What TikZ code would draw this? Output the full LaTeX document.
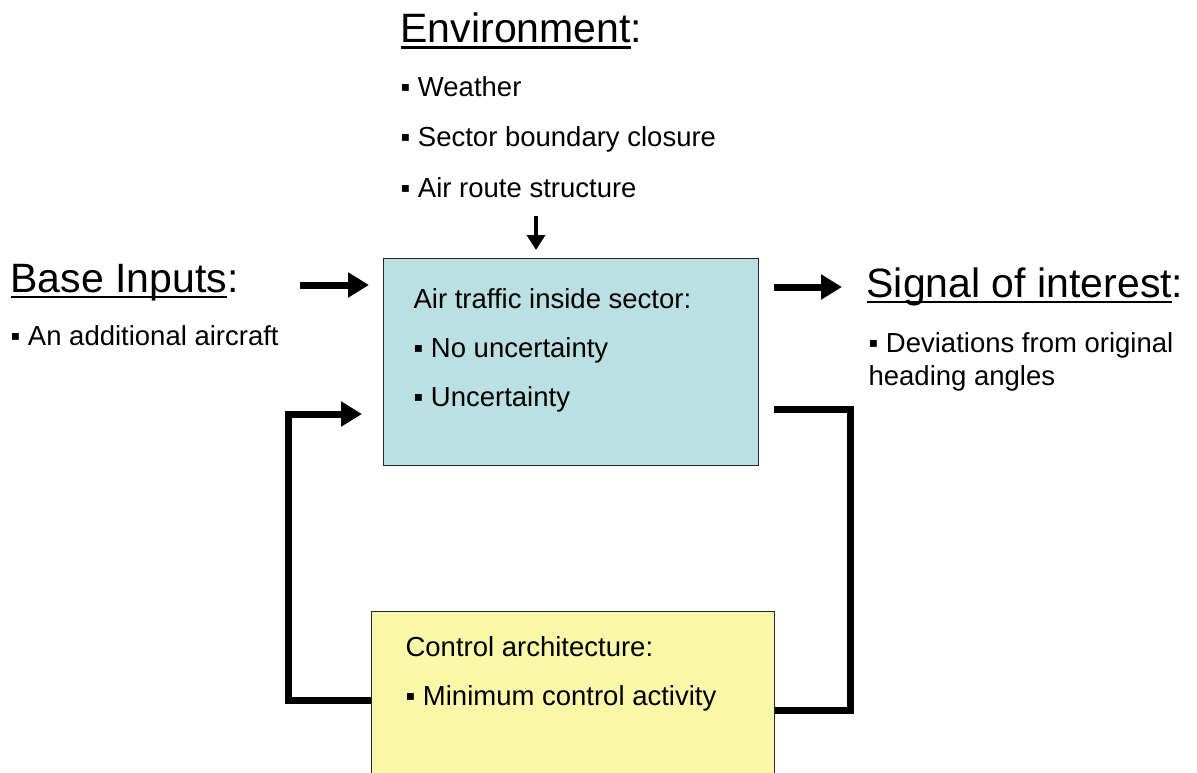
\documentclass[tikz,border=0pt]{standalone}
\usepackage{fontspec}
\setmainfont{Liberation Sans}
\usetikzlibrary{arrows.meta}
\definecolor{trafficblue}{RGB}{187,224,227}
\definecolor{controlyellow}{RGB}{250,248,168}
\newcommand{\ulhead}[1]{\setbox0\hbox{#1}\rlap{\rule[-6pt]{\wd0}{2.5pt}}\box0}
\newcommand{\bul}{\char"25AA\ }

\begin{document}
\begin{tikzpicture}[x=1pt, y=-1pt, line width=1.2pt,
    head/.style={anchor=base west, inner sep=0pt, font=\fontsize{41}{48}\selectfont},
    txt/.style={anchor=base west, inner sep=0pt, font=\fontsize{27.5}{33}\selectfont},
    block/.style={draw=black!85, line width=1.2pt, anchor=north west, inner sep=0pt},
    bigarrow/.style={line width=7pt, -{Triangle[length=21pt, width=24pt]}},
    smallarrow/.style={line width=3.5pt, -{Triangle[length=15pt, width=18pt]}},
    feedback/.style={line width=7pt}]
    \useasboundingbox (0,0) rectangle (1197,773);

    % Ecken.
    \coordinate (inp) at (300,285);
    \coordinate (envin) at (536,216);
    \coordinate (sig) at (842,287);
    \coordinate (lb) at (288,700);
    \coordinate (lt) at (288,414);
    \coordinate (rt) at (850,409);
    \coordinate (rb) at (850,710);

    % Kaesten.
    \node[block, fill=trafficblue, minimum width=375pt, minimum height=207pt] (traffic) at (383,258) {};
    \node[block, fill=controlyellow, minimum width=403pt, minimum height=200pt] (control) at (371,611) {};

    % Pfeile.
    \draw[bigarrow, shorten >=14pt] (inp) -- (traffic.west |- inp);
    \draw[smallarrow, shorten >=8pt] (envin) -- (traffic.north -| envin);
    \draw[bigarrow, shorten <=15pt] (traffic.east |- sig) -- (sig);
    \draw[bigarrow, shorten >=21pt] (control.west |- lb) -- (lb) -- (lt) -- (traffic.west |- lt);
    \draw[feedback, shorten <=15pt] (traffic.east |- rt) -- (rt) -- (rb) -- (control.east |- rb);

    % Beschriftung.
    \node[head] (envhead) at (400,43) {\ulhead{Environment}:};
    \node[txt] (env1) at (400,97) {\bul Weather};
    \node[txt] (env2) at (400,147) {\bul Sector boundary closure};
    \node[txt] (env3) at (400,197) {\bul Air route structure};

    \node[head] (basehead) at (10,292) {\ulhead{Base Inputs}:};
    \node[txt] (base1) at (10,345) {\bul An additional aircraft};

    \node[head] (sighead) at (866,297) {\ulhead{Signal of interest}:};
    \node[txt] (sig1) at (868,352) {\bul Deviations from original};
    \node[txt] (sig2) at (868,385) {heading angles};

    \node[txt] (tr0) at (413,308) {Air traffic inside sector:};
    \node[txt] (tr1) at (413,357) {\bul No uncertainty};
    \node[txt] (tr2) at (413,406) {\bul Uncertainty};

    \node[txt] (co0) at (405,656) {Control architecture:};
    \node[txt] (co1) at (405,705) {\bul Minimum control activity};
\end{tikzpicture}
\end{document}
